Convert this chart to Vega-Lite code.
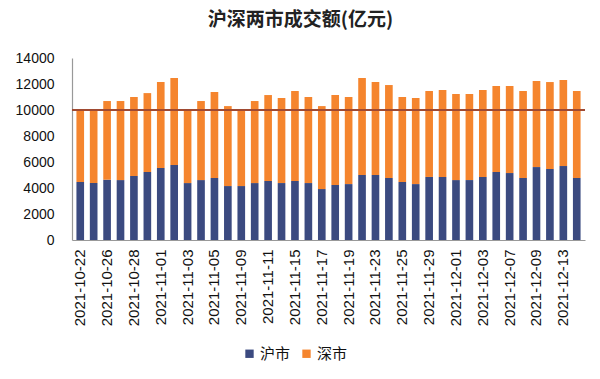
{
  "$schema": "https://vega.github.io/schema/vega-lite/v6.json",
  "autosize": {"type": "none"},
  "width": 513,
  "height": 182,
  "padding": {"left": 72, "top": 58, "right": 15, "bottom": 139},
  "background": "white",
  "title": {
    "text": "沪深两市成交额(亿元)",
    "font": "Noto Sans CJK SC",
    "fontSize": 19,
    "fontWeight": "bold",
    "color": "#222222",
    "anchor": "middle",
    "dx": -28,
    "offset": 21
  },
  "config": {"view": {"stroke": null}, "axisY": {"labelOverlap": false}},
  "data": {
    "values": [
      {"date": "2021-10-22", "market": "沪市", "value": 4460}, {"date": "2021-10-22", "market": "深市", "value": 5590},
      {"date": "2021-10-25", "market": "沪市", "value": 4380}, {"date": "2021-10-25", "market": "深市", "value": 5670},
      {"date": "2021-10-26", "market": "沪市", "value": 4640}, {"date": "2021-10-26", "market": "深市", "value": 6050},
      {"date": "2021-10-27", "market": "沪市", "value": 4610}, {"date": "2021-10-27", "market": "深市", "value": 6080},
      {"date": "2021-10-28", "market": "沪市", "value": 4920}, {"date": "2021-10-28", "market": "深市", "value": 6080},
      {"date": "2021-10-29", "market": "沪市", "value": 5230}, {"date": "2021-10-29", "market": "深市", "value": 6070},
      {"date": "2021-11-01", "market": "沪市", "value": 5540}, {"date": "2021-11-01", "market": "深市", "value": 6610},
      {"date": "2021-11-02", "market": "沪市", "value": 5770}, {"date": "2021-11-02", "market": "深市", "value": 6690},
      {"date": "2021-11-03", "market": "沪市", "value": 4380}, {"date": "2021-11-03", "market": "深市", "value": 5570},
      {"date": "2021-11-04", "market": "沪市", "value": 4610}, {"date": "2021-11-04", "market": "深市", "value": 6080},
      {"date": "2021-11-05", "market": "沪市", "value": 4770}, {"date": "2021-11-05", "market": "深市", "value": 6610},
      {"date": "2021-11-08", "market": "沪市", "value": 4150}, {"date": "2021-11-08", "market": "深市", "value": 6150},
      {"date": "2021-11-09", "market": "沪市", "value": 4150}, {"date": "2021-11-09", "market": "深市", "value": 5800},
      {"date": "2021-11-10", "market": "沪市", "value": 4380}, {"date": "2021-11-10", "market": "深市", "value": 6310},
      {"date": "2021-11-11", "market": "沪市", "value": 4540}, {"date": "2021-11-11", "market": "深市", "value": 6610},
      {"date": "2021-11-12", "market": "沪市", "value": 4380}, {"date": "2021-11-12", "market": "深市", "value": 6540},
      {"date": "2021-11-15", "market": "沪市", "value": 4540}, {"date": "2021-11-15", "market": "深市", "value": 6920},
      {"date": "2021-11-16", "market": "沪市", "value": 4380}, {"date": "2021-11-16", "market": "深市", "value": 6620},
      {"date": "2021-11-17", "market": "沪市", "value": 3920}, {"date": "2021-11-17", "market": "深市", "value": 6380},
      {"date": "2021-11-18", "market": "沪市", "value": 4230}, {"date": "2021-11-18", "market": "深市", "value": 6920},
      {"date": "2021-11-19", "market": "沪市", "value": 4300}, {"date": "2021-11-19", "market": "深市", "value": 6700},
      {"date": "2021-11-22", "market": "沪市", "value": 5000}, {"date": "2021-11-22", "market": "深市", "value": 7460},
      {"date": "2021-11-23", "market": "沪市", "value": 5000}, {"date": "2021-11-23", "market": "深市", "value": 7150},
      {"date": "2021-11-24", "market": "沪市", "value": 4770}, {"date": "2021-11-24", "market": "深市", "value": 7150},
      {"date": "2021-11-25", "market": "沪市", "value": 4460}, {"date": "2021-11-25", "market": "深市", "value": 6540},
      {"date": "2021-11-26", "market": "沪市", "value": 4300}, {"date": "2021-11-26", "market": "深市", "value": 6620},
      {"date": "2021-11-29", "market": "沪市", "value": 4850}, {"date": "2021-11-29", "market": "深市", "value": 6610},
      {"date": "2021-11-30", "market": "沪市", "value": 4850}, {"date": "2021-11-30", "market": "深市", "value": 6690},
      {"date": "2021-12-01", "market": "沪市", "value": 4610}, {"date": "2021-12-01", "market": "深市", "value": 6620},
      {"date": "2021-12-02", "market": "沪市", "value": 4610}, {"date": "2021-12-02", "market": "深市", "value": 6620},
      {"date": "2021-12-03", "market": "沪市", "value": 4850}, {"date": "2021-12-03", "market": "深市", "value": 6690},
      {"date": "2021-12-06", "market": "沪市", "value": 5230}, {"date": "2021-12-06", "market": "深市", "value": 6610},
      {"date": "2021-12-07", "market": "沪市", "value": 5150}, {"date": "2021-12-07", "market": "深市", "value": 6690},
      {"date": "2021-12-08", "market": "沪市", "value": 4770}, {"date": "2021-12-08", "market": "深市", "value": 6690},
      {"date": "2021-12-09", "market": "沪市", "value": 5610}, {"date": "2021-12-09", "market": "深市", "value": 6620},
      {"date": "2021-12-10", "market": "沪市", "value": 5460}, {"date": "2021-12-10", "market": "深市", "value": 6690},
      {"date": "2021-12-13", "market": "沪市", "value": 5690}, {"date": "2021-12-13", "market": "深市", "value": 6610},
      {"date": "2021-12-14", "market": "沪市", "value": 4770}, {"date": "2021-12-14", "market": "深市", "value": 6690}
    ]
  },
  "layer": [
    {
      "mark": {"type": "bar"},
      "encoding": {
        "x": {
          "field": "date",
          "type": "ordinal",
          "sort": null,
          "scale": {"paddingInner": 0.43, "paddingOuter": 0.33},
          "axis": {
            "title": null,
            "values": ["2021-10-22", "2021-10-26", "2021-10-28", "2021-11-01", "2021-11-03", "2021-11-05", "2021-11-09", "2021-11-11", "2021-11-15", "2021-11-17", "2021-11-19", "2021-11-23", "2021-11-25", "2021-11-29", "2021-12-01", "2021-12-03", "2021-12-07", "2021-12-09", "2021-12-13"],
            "labelAngle": -90,
            "labelAlign": "right",
            "labelBaseline": "middle",
            "labelPadding": 9,
            "labelOverlap": false,
            "labelFont": "Liberation Sans",
            "labelFontSize": 15,
            "labelColor": "#111111",
            "ticks": false,
            "domainColor": "#999999",
            "domainWidth": 1.2
          }
        },
        "y": {
          "field": "value",
          "type": "quantitative",
          "stack": "zero",
          "scale": {"domain": [0, 14000], "nice": false},
          "axis": {
            "title": null,
            "values": [0, 2000, 4000, 6000, 8000, 10000, 12000, 14000],
            "format": "d",
            "labelOverlap": false,
            "grid": false,
            "ticks": false,
            "labelPadding": 18,
            "labelFont": "Liberation Sans",
            "labelFontSize": 14,
            "labelColor": "#111111",
            "domainColor": "#999999",
            "domainWidth": 1.2
          }
        },
        "color": {
          "field": "market",
          "type": "nominal",
          "scale": {"domain": ["沪市", "深市"], "range": ["#3B4A80", "#F5852E"]},
          "legend": {
            "title": null,
            "orient": "none",
            "direction": "horizontal",
            "legendX": 170,
            "legendY": 288,
            "symbolType": "square",
            "symbolSize": 70,
            "symbolStrokeWidth": 0,
            "labelFont": "Noto Sans CJK SC",
            "labelFontSize": 15,
            "labelColor": "#111111",
            "labelOffset": 3,
            "columnPadding": 8
          }
        },
        "order": {"field": "market", "sort": "ascending"}
      }
    },
    {
      "mark": {"type": "rule", "color": "#A04A32", "strokeWidth": 1.2},
      "encoding": {
        "y": {
          "datum": 10000,
          "type": "quantitative",
          "axis": {
            "title": null,
            "values": [0, 2000, 4000, 6000, 8000, 10000, 12000, 14000],
            "format": "d",
            "labelOverlap": false,
            "grid": false,
            "ticks": false,
            "labelPadding": 18,
            "labelFont": "Liberation Sans",
            "labelFontSize": 14,
            "labelColor": "#111111",
            "domainColor": "#999999",
            "domainWidth": 1.2
          }
        }
      }
    }
  ]
}
